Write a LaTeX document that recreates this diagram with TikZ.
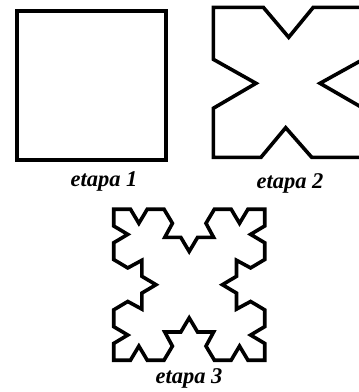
\documentclass[tikz,border=0pt]{standalone}
\usepackage{fontspec}
\setmainfont{Liberation Serif}
\begin{document}
\begin{tikzpicture}[x=1pt,y=-1pt]
\tikzset{
  fig/.style={draw=black, line width=3.6pt, line join=miter, miter limit=6},
  lab/.style={font=\bfseries\itshape\fontsize{22.5}{22.5}\selectfont, anchor=base, inner sep=0pt}
}
\useasboundingbox (0,0) rectangle (359,392);
\clip (0,0) rectangle (359,392);
% etapa 1
\draw[fig] (16.7,10.7) rectangle (165.7,160);
% etapa 2
\draw[fig] (213.3,7.3) -- (263.3,7.3) -- (288.7,37.3) -- (313.3,7.3) -- (363.3,7.3)
  -- (363.3,59.3) -- (320,83.3) -- (363.3,108.3) -- (363.3,157.3)
  -- (311.7,157.3) -- (285.7,127.7) -- (261,157.3) -- (213.3,157.3)
  -- (213.3,108.3) -- (256,83.3) -- (213.3,59.3) -- cycle;
% etapa 3
\def\Xo{113.7}\def\Yo{209.2}
\draw[fig] (\Xo+8.39,\Yo)
  \foreach \r in {0,-90,-180,-270}{
    \foreach \u/\v in {16.78/0,25.17/14.09,33.56/0,50.33/0,58.72/14.09,51.08/28.19,67.11/28.19,75.5/42.28,83.89/28.19,99.92/28.19,92.28/14.09,100.67/0,117.44/0,125.83/14.09,134.22/0,151/0}{
      -- ([rotate around={\r:(189.2,284.7)}] \Xo+\u,\Yo+\v)
    }
  } -- cycle;
\node[lab] (l1) at (104,186.5) {etapa 1};
\node[lab] (l2) at (290,188) {etapa 2};
\node[lab] (l3) at (189,383.3) {etapa 3};
\end{tikzpicture}
\end{document}
